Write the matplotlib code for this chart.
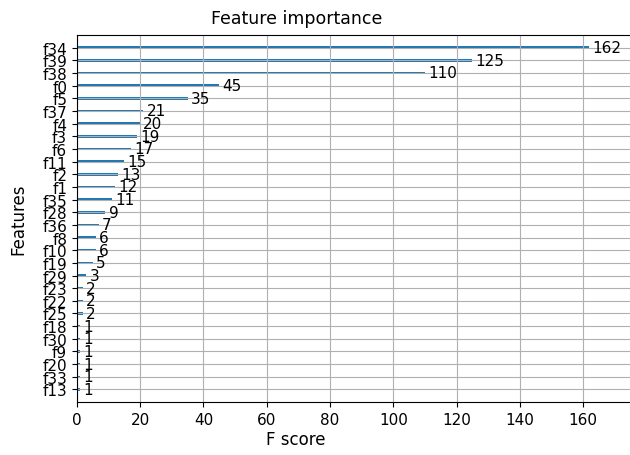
import matplotlib
matplotlib.use('Agg')
import matplotlib.pyplot as plt
import numpy as np

# feature names and F scores, top to bottom as in the picture
features = ['f34', 'f39', 'f38', 'f0', 'f5', 'f37', 'f4', 'f3', 'f6', 'f11',
            'f2', 'f1', 'f35', 'f28', 'f36', 'f8', 'f10', 'f19', 'f29', 'f23',
            'f22', 'f25', 'f18', 'f30', 'f9', 'f20', 'f33', 'f13']
scores = [162, 125, 110, 45, 35, 21, 20, 19, 17, 15,
          13, 12, 11, 9, 7, 6, 6, 5, 3, 2,
          2, 2, 1, 1, 1, 1, 1, 1]

# plotted bottom-up like xgboost.plot_importance
labels = features[::-1]
values = scores[::-1]
ylocs = np.arange(len(values))

fig = plt.figure(figsize=(6.3, 4.56), dpi=100)
# axes runs a bit past the right edge (reference is cropped there)
ax = fig.add_axes([0.122, 0.116, 0.895, 0.805])

ax.barh(ylocs, values, align='center', height=0.2)
for x, y in zip(values, ylocs):
    ax.text(x + 1, y, x, va='center', fontsize=11)

ax.set_yticks(ylocs)
ax.set_yticklabels(labels, fontsize=11)
ax.tick_params(axis='x', labelsize=11)
ax.set_xlim(0, max(values) * 1.1)
ax.set_ylim(-1, len(values))
ax.spines['right'].set_visible(False)

ax.set_title('Feature importance', fontsize=12.5, x=0.389, pad=9)
ax.set_xlabel('F score', fontsize=12)
ax.xaxis.set_label_coords(0.389, -0.075)
ax.set_ylabel('Features', fontsize=12)
ax.yaxis.set_label_coords(-0.087, 0.5)
ax.grid(True)

plt.savefig('out.png', dpi=100)
